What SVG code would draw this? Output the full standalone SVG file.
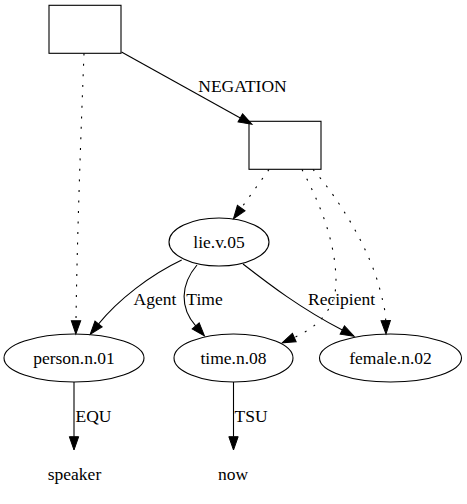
<svg xmlns="http://www.w3.org/2000/svg" width="467" height="504" viewBox="0 0 467 504">
<style>
.n{fill:none;stroke:#000;stroke-width:1.1}
.e{fill:none;stroke:#000;stroke-width:1.1}
.d{stroke-dasharray:2,8.5}
.t{font-family:'Liberation Serif','DejaVu Serif',serif;font-size:17.5px;fill:#000;text-anchor:middle}
</style>
<defs>
<marker id="ah" markerUnits="userSpaceOnUse" markerWidth="14" markerHeight="10" refX="0" refY="4.67" orient="auto" overflow="visible">
<path d="M0,0 L13.3,4.67 L0,9.33 Z" fill="#000" stroke="#000" stroke-width="1"/>
</marker>
</defs>
<rect width="467" height="504" fill="#fff"/>
<g id="box1"><rect class="n" x="49" y="5.3" width="72" height="48"/></g>
<g id="box2"><rect class="n" x="249" y="121.3" width="72" height="48"/></g>
<g id="lie"><ellipse class="n" cx="219" cy="242" rx="50" ry="24"/><text class="t" font-family="Liberation Serif" x="219" y="248">lie.v.05</text></g>
<g id="person"><ellipse class="n" cx="74" cy="358" rx="70" ry="24"/><text class="t" font-family="Liberation Serif" x="74" y="364">person.n.01</text></g>
<g id="time"><ellipse class="n" cx="233.5" cy="358" rx="59.5" ry="24"/><text class="t" font-family="Liberation Serif" x="233.5" y="364">time.n.08</text></g>
<g id="female"><ellipse class="n" cx="390.5" cy="358" rx="71" ry="24"/><text class="t" font-family="Liberation Serif" x="390.5" y="364">female.n.02</text></g>
<g id="speaker"><text class="t" font-family="Liberation Serif" x="74.5" y="480">speaker</text></g>
<g id="now"><text class="t" font-family="Liberation Serif" x="233" y="480">now</text></g>
<g id="edges">
<path class="e" d="M121.5,52 L240.3,117.9" marker-end="url(#ah)"/>
<text class="t" font-family="Liberation Serif" x="242.5" y="92">NEGATION</text>
<path class="e d" d="M84,53.5 C81,130 77,240 76,320.7" marker-end="url(#ah)"/>
<path class="e d" d="M269,169.5 L241.2,208.1" marker-end="url(#ah)"/>
<path class="e d" d="M302,169.5 C318,200 336,240 336,282 C336,310 316,328 294.3,337.5" marker-end="url(#ah)"/>
<path class="e d" d="M313,169.5 C340,200 370,250 380,290 C384,305 385.5,312 385.7,320.7" marker-end="url(#ah)"/>
<path class="e" d="M181.7,260 C150,275 118,300 98.6,323.9" marker-end="url(#ah)"/>
<text class="t" font-family="Liberation Serif" x="155" y="305">Agent</text>
<path class="e" d="M197,265 C180,285 180,308 195.7,325.9" marker-end="url(#ah)"/>
<text class="t" font-family="Liberation Serif" x="204.5" y="305">Time</text>
<path class="e" d="M243,264 C270,285 300,308 342.3,330.1" marker-end="url(#ah)"/>
<text class="t" font-family="Liberation Serif" x="341.5" y="305">Recipient</text>
<path class="e" d="M74,382 L74,436.7" marker-end="url(#ah)"/>
<text class="t" font-family="Liberation Serif" x="93.5" y="422">EQU</text>
<path class="e" d="M233.5,382 L233.5,436.7" marker-end="url(#ah)"/>
<text class="t" font-family="Liberation Serif" x="251" y="422">TSU</text>
</g>
</svg>
